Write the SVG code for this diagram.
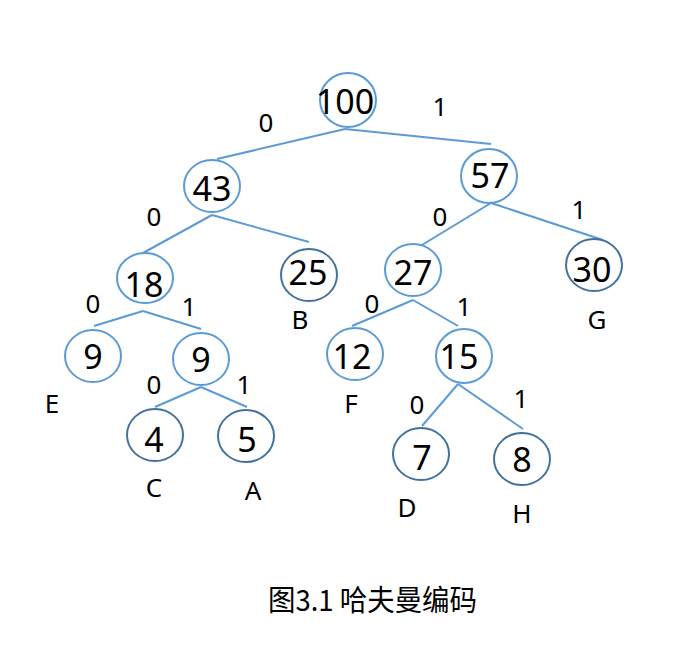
<svg xmlns="http://www.w3.org/2000/svg" width="682" height="661" viewBox="0 0 682 661">
<style>
.n{fill:#fff;stroke:#5b9bd5;stroke-width:2}
.d{fill:#fff;stroke:#41719c;stroke-width:2}
.v{font-family:"Noto Sans","Open Sans",sans-serif;font-size:34px;fill:#000;text-anchor:middle}
.l{font-family:"Noto Sans","Open Sans",sans-serif;font-size:26px;fill:#000;text-anchor:middle}
.e line{stroke:#5b9bd5;stroke-width:2}
.cap{font-family:"Noto Sans CJK SC","Noto Sans",sans-serif;font-size:29px;fill:#000}
</style>
<rect width="682" height="661" fill="#fff"/>
<g id="connectors" class="e">
<line x1="345" y1="129" x2="217" y2="159"/>
<line x1="345" y1="129" x2="491" y2="144"/>
<line x1="212" y1="215" x2="143" y2="253"/>
<line x1="212" y1="215" x2="309" y2="242"/>
<line x1="491" y1="203" x2="417" y2="248"/>
<line x1="491" y1="203" x2="603" y2="240"/>
<line x1="143" y1="311" x2="94" y2="326"/>
<line x1="143" y1="311" x2="201" y2="329"/>
<line x1="413" y1="300" x2="352" y2="326"/>
<line x1="413" y1="300" x2="458" y2="326"/>
<line x1="201" y1="387" x2="155" y2="407"/>
<line x1="201" y1="387" x2="247" y2="407"/>
<line x1="458" y1="384" x2="422" y2="426"/>
<line x1="458" y1="384" x2="523" y2="429"/>
</g>
<g id="edge-labels">
<text class="l" x="266" y="132">0</text>
<text class="l" x="440" y="116">1</text>
<text class="l" x="154" y="226">0</text>
<text class="l" x="440" y="226">0</text>
<text class="l" x="579" y="219">1</text>
<text class="l" x="93" y="313">0</text>
<text class="l" x="189" y="316">1</text>
<text class="l" x="372" y="313">0</text>
<text class="l" x="464" y="316">1</text>
<text class="l" x="154" y="394">0</text>
<text class="l" x="244" y="394">1</text>
<text class="l" x="417" y="414">0</text>
<text class="l" x="521" y="408">1</text>
</g>
<g id="n100"><ellipse class="n" cx="348" cy="100" rx="28" ry="27"/><text class="v" x="345" y="114">100</text></g>
<g id="n43"><ellipse class="n" cx="212" cy="186" rx="28" ry="26"/><text class="v" x="212" y="201">43</text></g>
<g id="n57"><ellipse class="n" cx="489" cy="176" rx="28" ry="27"/><text class="v" x="490" y="188">57</text></g>
<g id="n18"><ellipse class="n" cx="145" cy="278" rx="28" ry="25"/><text class="v" x="144" y="297">18</text></g>
<g id="n25"><ellipse class="d" cx="309" cy="275" rx="28" ry="26"/><text class="v" x="308" y="285">25</text><text class="l" x="300" y="329">B</text></g>
<g id="n27"><ellipse class="n" cx="413" cy="270" rx="28" ry="26"/><text class="v" x="413" y="285">27</text></g>
<g id="n30"><ellipse class="d" cx="594" cy="265" rx="28" ry="26"/><text class="v" x="592" y="282">30</text><text class="l" x="597" y="329">G</text></g>
<g id="n9E"><ellipse class="n" cx="93" cy="356" rx="28" ry="26"/><text class="v" x="93" y="369">9</text><text class="l" x="52" y="413">E</text></g>
<g id="n9"><ellipse class="n" cx="201" cy="359" rx="28" ry="26"/><text class="v" x="201" y="372">9</text></g>
<g id="n12"><ellipse class="n" cx="355" cy="354" rx="28" ry="26"/><text class="v" x="352" y="369">12</text><text class="l" x="351" y="413">F</text></g>
<g id="n15"><ellipse class="n" cx="464" cy="356" rx="28" ry="27"/><text class="v" x="459" y="369">15</text></g>
<g id="n4"><ellipse class="d" cx="155" cy="435" rx="28" ry="26"/><text class="v" x="154" y="452">4</text><text class="l" x="154" y="497">C</text></g>
<g id="n5"><ellipse class="d" cx="246" cy="436" rx="28" ry="26"/><text class="v" x="247" y="452">5</text><text class="l" x="253" y="500">A</text></g>
<g id="n7"><ellipse class="d" cx="421" cy="454" rx="28" ry="26"/><text class="v" x="422" y="470">7</text><text class="l" x="407" y="517">D</text></g>
<g id="n8"><ellipse class="d" cx="522" cy="459" rx="28" ry="26"/><text class="v" x="522" y="472">8</text><text class="l" x="522" y="523">H</text></g>
<g id="caption"><text class="cap" x="268" y="611" textLength="209" lengthAdjust="spacingAndGlyphs">图3.1 哈夫曼编码</text></g>
</svg>
